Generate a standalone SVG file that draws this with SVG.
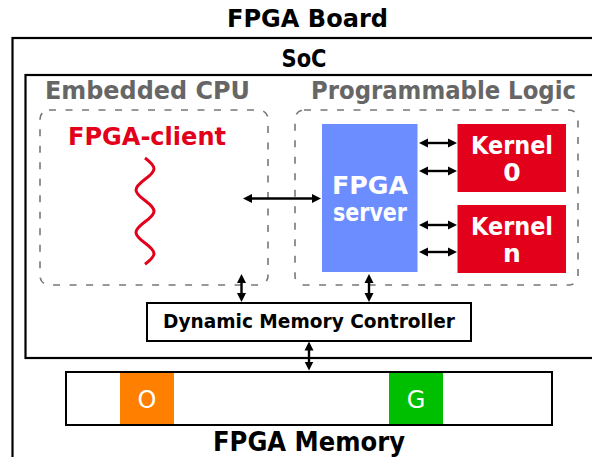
<svg xmlns="http://www.w3.org/2000/svg" width="592" height="457" viewBox="0 0 592 457">
<defs>
<marker id="ah" viewBox="0 -5 10 10" refX="5" refY="0" markerWidth="10" markerHeight="10" markerUnits="userSpaceOnUse" orient="auto-start-reverse">
<path d="M0,-4.5 L9,0 L0,4.5 Z" fill="#000"/>
</marker>
</defs>
<style>
text{font-family:"DejaVu Sans","Liberation Sans",sans-serif;font-weight:bold;text-anchor:middle}
.title{font-size:25px;fill:#000}
.gray{font-size:24px;fill:#666}
.white{fill:#fff;font-size:25px}
.reg{font-weight:normal;fill:#fff;font-size:24px}
.frame{fill:none;stroke:#000;stroke-width:2.2}
.dash{fill:none;stroke:#777;stroke-width:1.6;stroke-dasharray:7 9.5}
.box{fill:#fff;stroke:#000;stroke-width:2}
.arr{fill:none;stroke:#000;stroke-width:2.4;marker-start:url(#ah);marker-end:url(#ah)}
</style>
<g id="board">
<rect class="frame" x="12.5" y="38" width="600" height="440"/>
<text class="title" x="307.5" y="27" textLength="161" lengthAdjust="spacingAndGlyphs">FPGA Board</text>
</g>
<g id="soc">
<rect class="frame" x="25.5" y="75" width="600" height="283"/>
<text class="title" x="304" y="67" textLength="45" lengthAdjust="spacingAndGlyphs">SoC</text>
</g>
<g id="cpu">
<rect class="dash" x="40" y="110" width="228" height="175" rx="9"/>
<text class="gray" x="147.5" y="99" textLength="205" lengthAdjust="spacingAndGlyphs">Embedded CPU</text>
</g>
<g id="client">
<text x="147" y="145" style="font-size:25px;fill:#e2001a" textLength="158" lengthAdjust="spacingAndGlyphs">FPGA-client</text>
<path d="M145,158 C157,167.02 157,170.23 145,179.25 C133,188.27 133,191.48 145,200.5 C157,209.52 157,212.73 145,221.75 C133,230.77 133,233.98 145,243 C157,252.02 157,255.23 145,264.25" fill="none" stroke="#e2001a" stroke-width="3"/>
</g>
<g id="pl">
<rect class="dash" x="295" y="110" width="283" height="175" rx="9"/>
<text class="gray" x="443.5" y="99" textLength="265" lengthAdjust="spacingAndGlyphs">Programmable Logic</text>
</g>
<g id="server">
<rect x="322" y="124" width="95.5" height="148" fill="#6c8dff"/>
<text class="white" x="370" y="193.5" style="font-size:24px" textLength="76" lengthAdjust="spacingAndGlyphs">FPGA</text>
<text class="white" x="370" y="220.5" style="font-size:24px" textLength="74" lengthAdjust="spacingAndGlyphs">server</text>
</g>
<g id="kernel0">
<rect x="457.5" y="124" width="108.5" height="68" fill="#e2001a"/>
<text class="white" x="512" y="154" textLength="82" lengthAdjust="spacingAndGlyphs">Kernel</text>
<text class="white" x="512" y="181">0</text>
</g>
<g id="kerneln">
<rect x="457.5" y="205" width="108.5" height="68" fill="#e2001a"/>
<text class="white" x="512" y="235" textLength="82" lengthAdjust="spacingAndGlyphs">Kernel</text>
<text class="white" x="512" y="261.5">n</text>
</g>
<g id="dmc">
<rect class="box" x="147" y="303" width="324" height="38"/>
<text x="309" y="327.5" style="font-size:20px;fill:#000" textLength="292" lengthAdjust="spacingAndGlyphs">Dynamic Memory Controller</text>
</g>
<g id="memory">
<rect class="box" x="66" y="372" width="486" height="53"/>
<rect x="120" y="373" width="54" height="51" fill="#ff8000"/>
<rect x="389" y="373" width="54" height="51" fill="#00bf00"/>
<text class="reg" x="147" y="408">O</text>
<text class="reg" x="416" y="408">G</text>
<text class="title" x="309" y="451" style="font-size:26px" textLength="192" lengthAdjust="spacingAndGlyphs">FPGA Memory</text>
</g>
<g id="connectors">
<line class="arr" x1="247" y1="198.5" x2="317" y2="198.5"/>
<line class="arr" x1="423" y1="143" x2="453" y2="143"/>
<line class="arr" x1="423" y1="171" x2="453" y2="171"/>
<line class="arr" x1="423" y1="225" x2="453" y2="225"/>
<line class="arr" x1="423" y1="252" x2="453" y2="252"/>
<line class="arr" x1="241.5" y1="278" x2="241.5" y2="298"/>
<line class="arr" x1="369" y1="278" x2="369" y2="298"/>
<line class="arr" x1="309" y1="345.5" x2="309" y2="366.5"/>
</g>
</svg>
